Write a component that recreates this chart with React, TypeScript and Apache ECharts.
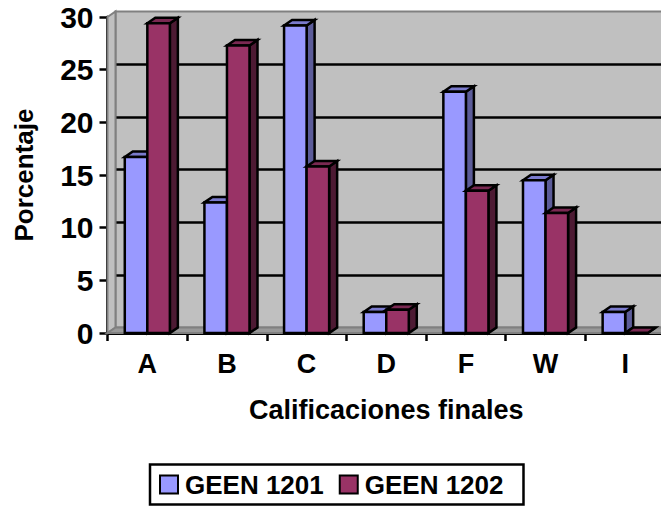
import React, { useEffect, useRef } from "react";
import * as echarts from "echarts";

const categories = ["A", "B", "C", "D", "F", "W", "I"];
const geen1201 = [16.7, 12.4, 29.2, 2, 22.9, 14.5, 2];
const geen1202 = [29.4, 27.3, 15.8, 2.2, 13.5, 11.4, 0];
const yTicks = [0, 5, 10, 15, 20, 25, 30];

const FONT = "'Liberation Sans', Arial, sans-serif";
const DX = 8;
const DY = -5.5;

function box(side: number, face: string, top: string, dark: string) {
  return (params: any, api: any) => {
    const band = api.size([1, 0])[0];
    const w = band * 0.283;
    const c = api.coord([api.value(0), api.value(1)]);
    const base = api.coord([api.value(0), 0]);
    const x0 = side < 0 ? c[0] - w : c[0];
    const x1 = x0 + w;
    const yt = c[1];
    const yb = base[1];
    const line = { stroke: "#000", lineWidth: 2.5, lineJoin: "miter" };
    return {
      type: "group",
      children: [
        { type: "polygon", shape: { points: [[x1, yt], [x1 + DX, yt + DY], [x1 + DX, yb + DY], [x1, yb]] }, style: { fill: dark, ...line } },
        { type: "polygon", shape: { points: [[x0, yt], [x0 + DX, yt + DY], [x1 + DX, yt + DY], [x1, yt]] }, style: { fill: top, ...line } },
        { type: "rect", shape: { x: x0, y: yt, width: w, height: yb - yt }, style: { fill: face, ...line } },
      ],
    };
  };
}

function walls(params: any) {
  const { x, y, width, height } = params.coordSys;
  const b = y + height;
  const edge = { stroke: "#808080", lineWidth: 2 };
  return {
    type: "group",
    children: [
      { type: "polygon", shape: { points: [[x, y], [x + DX, y + DY], [x + DX, b + DY], [x, b]] }, style: { fill: "#C0C0C0", ...edge } },
      { type: "polygon", shape: { points: [[x, b], [x + DX, b + DY], [x + width + DX, b + DY], [x + width, b]] }, style: { fill: "#999999", ...edge } },
    ],
  };
}

export default function App() {
  const ref = useRef<HTMLDivElement>(null);
  useEffect(() => {
    document.body.style.margin = "0";
    const chart = echarts.init(ref.current!, undefined, { renderer: "svg" });
    chart.setOption({
      animation: false,
      textStyle: { fontFamily: FONT },
      legend: {
        data: ["GEEN 1201", "GEEN 1202"],
        icon: "rect",
        left: 150,
        top: 464.5,
        itemWidth: 18,
        itemHeight: 18,
        itemGap: 15,
        padding: [7, 20, 7, 9],
        borderColor: "#000",
        borderWidth: 2.5,
        backgroundColor: "#fff",
        textStyle: { fontFamily: FONT, fontWeight: "bold", fontSize: 26, color: "#000", padding: [0, 0, 0, 2] },
      },
      grid: [
        { left: 115.5, top: 11.5, width: 557.5, height: 316, show: true, backgroundColor: "#C0C0C0", borderColor: "#808080", borderWidth: 2, outerBoundsMode: "none" },
        { left: 107.5, top: 17, width: 557.5, height: 316, outerBoundsMode: "none" },
      ],
      xAxis: [
        { gridIndex: 0, type: "category", data: categories, show: false },
        {
          gridIndex: 1,
          type: "category",
          data: categories,
          name: "Calificaciones finales",
          nameLocation: "middle",
          nameGap: 63,
          nameTextStyle: { fontFamily: FONT, fontWeight: "bold", fontSize: 27, color: "#000" },
          axisLine: { lineStyle: { color: "#000", width: 3 } },
          axisTick: { show: true, length: 8, lineStyle: { color: "#000", width: 2.5 } },
          axisLabel: { fontFamily: FONT, fontWeight: "bold", fontSize: 27, color: "#000", margin: 17 },
        },
      ],
      yAxis: [
        {
          gridIndex: 0,
          type: "value",
          min: 0,
          max: 30,
          interval: 5,
          axisLine: { show: false },
          axisTick: { show: false },
          axisLabel: { show: false },
          splitLine: { show: true, showMinLine: false, showMaxLine: false, lineStyle: { color: "#000", width: 2.5 } },
        },
        {
          gridIndex: 1,
          type: "value",
          min: yTicks[0],
          max: yTicks[yTicks.length - 1],
          interval: 5,
          name: "Porcentaje",
          nameLocation: "middle",
          nameGap: 71,
          nameTextStyle: { fontFamily: FONT, fontWeight: "bold", fontSize: 26, color: "#000" },
          axisLine: { show: true, lineStyle: { color: "#000", width: 3 } },
          axisTick: { show: true, length: 8, lineStyle: { color: "#000", width: 2.5 } },
          axisLabel: { fontFamily: FONT, fontWeight: "bold", fontSize: 30, color: "#000", margin: 14 },
          splitLine: { show: false },
        },
      ],
      series: [
        { name: "walls", type: "custom", xAxisIndex: 1, yAxisIndex: 1, data: [[0, 0]], renderItem: walls, silent: true, z: 1 },
        {
          name: "GEEN 1201",
          type: "custom",
          xAxisIndex: 1,
          yAxisIndex: 1,
          data: categories.map((c, i) => [i, geen1201[i]]),
          encode: { x: 0, y: 1 },
          itemStyle: { color: "#9999FF", borderColor: "#000", borderWidth: 2 },
          renderItem: box(-1, "#9999FF", "#7A7ACC", "#5C5C99"),
          z: 2,
        },
        {
          name: "GEEN 1202",
          type: "custom",
          xAxisIndex: 1,
          yAxisIndex: 1,
          data: categories.map((c, i) => [i, geen1202[i]]),
          encode: { x: 0, y: 1 },
          itemStyle: { color: "#993366", borderColor: "#000", borderWidth: 2 },
          renderItem: box(1, "#993366", "#7A2952", "#4D1A33"),
          z: 2,
        },
      ],
    });
    return () => chart.dispose();
  }, []);
  return <div ref={ref} style={{ width: 661, height: 507, overflow: "hidden" }} />;
}
